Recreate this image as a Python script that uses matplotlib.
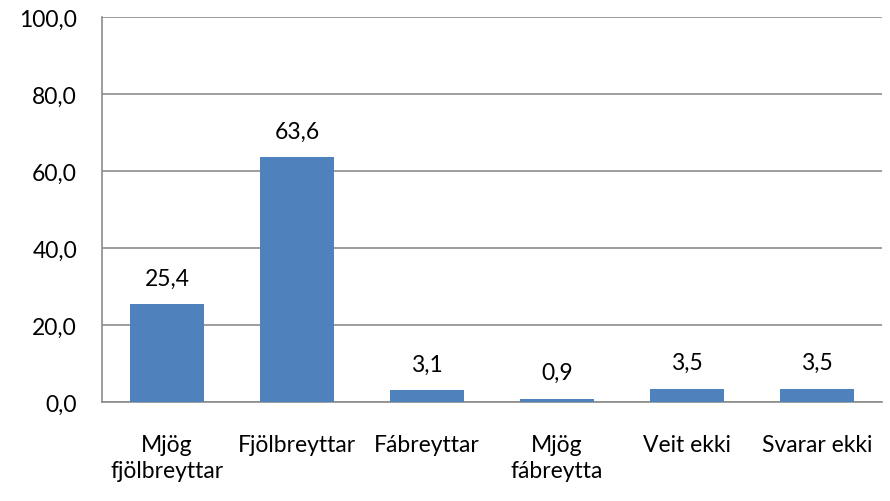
import matplotlib.pyplot as plt
import numpy as np

categories = ['Mjög\nfjölbreyttar', 'Fjölbreyttar', 'Fábreyttar', 'Mjög\nfábreytta', 'Veit ekki', 'Svarar ekki']
values = [25.4, 63.6, 3.1, 0.9, 3.5, 3.5]
yticks = [0, 20, 40, 60, 80, 100]

plt.rcParams['font.family'] = ['Lato', 'DejaVu Sans']

fig = plt.figure(figsize=(8.9, 5.02), dpi=100)
ax = fig.add_axes([102 / 890, 1 - 403 / 502, 780 / 890, 385 / 502])

x = np.arange(len(categories))
ax.bar(x, values, width=0.57, color='#4f81bd', zorder=3)

fs = 16.5
for xi, v in zip(x, values):
    ax.text(xi, v + 4, f'{v:.1f}'.replace('.', ','), ha='center', va='bottom', fontsize=fs)

ax.set_xlim(-0.5, len(categories) - 0.5)
ax.set_ylim(0, 100)
ax.set_yticks(yticks)
ax.set_yticklabels([f'{t:.1f}'.replace('.', ',') for t in yticks], fontsize=fs)
ax.set_xticks(x)
ax.set_xticklabels(categories, fontsize=fs, va='top', linespacing=1.3)
ax.tick_params(axis='x', length=0, pad=23)
ax.tick_params(axis='y', length=0, pad=18)

ax.grid(axis='y', color='#8c8c8c', linewidth=1.2, zorder=0)
for s in ['top', 'right']:
    ax.spines[s].set_visible(False)
for s in ['left', 'bottom']:
    ax.spines[s].set_color('#8c8c8c')
    ax.spines[s].set_linewidth(1.2)

fig.savefig('out.png', dpi=100)
